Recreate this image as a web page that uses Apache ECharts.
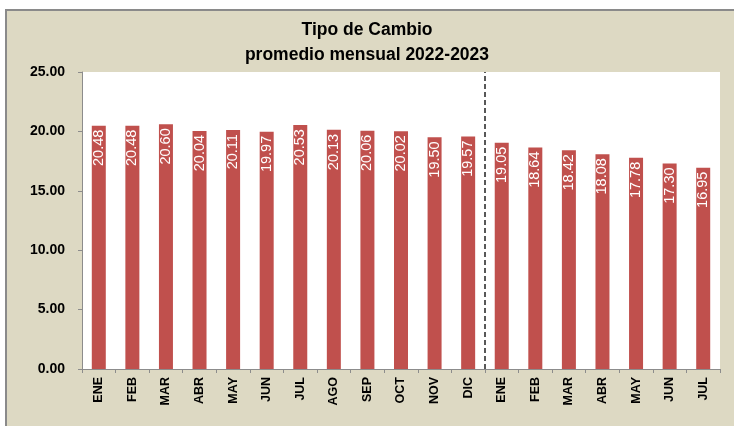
<!DOCTYPE html>
<html>
<head>
<meta charset="utf-8">
<script src="https://cdn.jsdelivr.net/npm/echarts@6/dist/echarts.min.js"></script>
<style>
  html, body { margin: 0; padding: 0; background: #ffffff; }
  #chart { width: 734px; height: 426px; }
</style>
</head>
<body>
<div id="chart"></div>
<script>
// Monthly average exchange rate, Jan 2022 – Jul 2023
const months = ['ENE', 'FEB', 'MAR', 'ABR', 'MAY', 'JUN', 'JUL', 'AGO', 'SEP', 'OCT', 'NOV', 'DIC',
                'ENE', 'FEB', 'MAR', 'ABR', 'MAY', 'JUN', 'JUL'];
const rates = [20.48, 20.48, 20.60, 20.04, 20.11, 19.97, 20.53, 20.13, 20.06, 20.02, 19.50, 19.57,
               19.05, 18.64, 18.42, 18.08, 17.78, 17.30, 16.95];
const yTicks = [0, 5, 10, 15, 20, 25];
// number of 2022 months: the year divider sits right after them
const months2022 = 12;

const chart = echarts.init(document.getElementById('chart'), null, { renderer: 'canvas' });

chart.setOption({
  backgroundColor: '#ffffff',
  animation: false,
  graphic: [{
    type: 'rect',
    z: -10,
    silent: true,
    shape: { x: 6, y: 10, width: 740, height: 430 },
    style: { fill: '#DDD9C3', stroke: '#8a8a8a', lineWidth: 2 }
  }],
  title: {
    text: 'Tipo de Cambio\npromedio mensual 2022-2023',
    left: 'center',
    top: 13,
    textStyle: {
      fontFamily: '"Liberation Sans Narrow", "Liberation Sans", Arial, sans-serif',
      fontSize: 17.5,
      fontWeight: 'bold',
      color: '#000000',
      lineHeight: 25
    }
  },
  grid: {
    left: 82, right: 14, top: 72, bottom: 57,
    show: true,
    backgroundColor: '#ffffff',
    borderWidth: 0
  },
  xAxis: [{
    type: 'category',
    data: months,
    axisLine: { lineStyle: { color: '#8c8c8c', width: 1 } },
    axisTick: { show: true, alignWithLabel: false, length: 4, lineStyle: { color: '#8c8c8c' } },
    axisLabel: {
      rotate: 90,
      interval: 0,
      margin: 8,
      color: '#000000',
      fontFamily: '"Liberation Sans", Arial, sans-serif',
      fontSize: 12.5,
      fontWeight: 'bold'
    }
  }, {
    // hidden linear axis spanning the month slots, used to place the year divider
    type: 'value',
    min: 0,
    max: months.length,
    show: false,
    position: 'bottom'
  }],
  yAxis: {
    type: 'value',
    min: yTicks[0],
    max: yTicks[yTicks.length - 1],
    interval: 5,
    axisLine: { show: true, lineStyle: { color: '#8c8c8c', width: 1 } },
    axisTick: { show: true, length: 4, lineStyle: { color: '#8c8c8c' } },
    splitLine: { show: false },
    axisLabel: {
      formatter: v => v.toFixed(2),
      margin: 17,
      color: '#000000',
      fontFamily: '"Liberation Sans", Arial, sans-serif',
      fontSize: 14,
      fontWeight: 'bold'
    }
  },
  series: [{
    type: 'bar',
    data: rates,
    barWidth: 14,
    itemStyle: { color: '#C0504D' },
    label: {
      show: true,
      position: 'insideTop',
      rotate: 90,
      align: 'right',
      verticalAlign: 'middle',
      distance: 4,
      formatter: p => p.value.toFixed(2),
      color: '#ffffff',
      fontFamily: '"Liberation Sans", Arial, sans-serif',
      fontSize: 14.5
    }
  }, {
    type: 'line',
    xAxisIndex: 1,
    data: [],
    markLine: {
      silent: true,
      symbol: 'none',
      label: { show: false },
      lineStyle: { color: '#222222', type: [5, 3], width: 1.5 },
      data: [{ xAxis: months2022 }]
    }
  }]
});
</script>
</body>
</html>
